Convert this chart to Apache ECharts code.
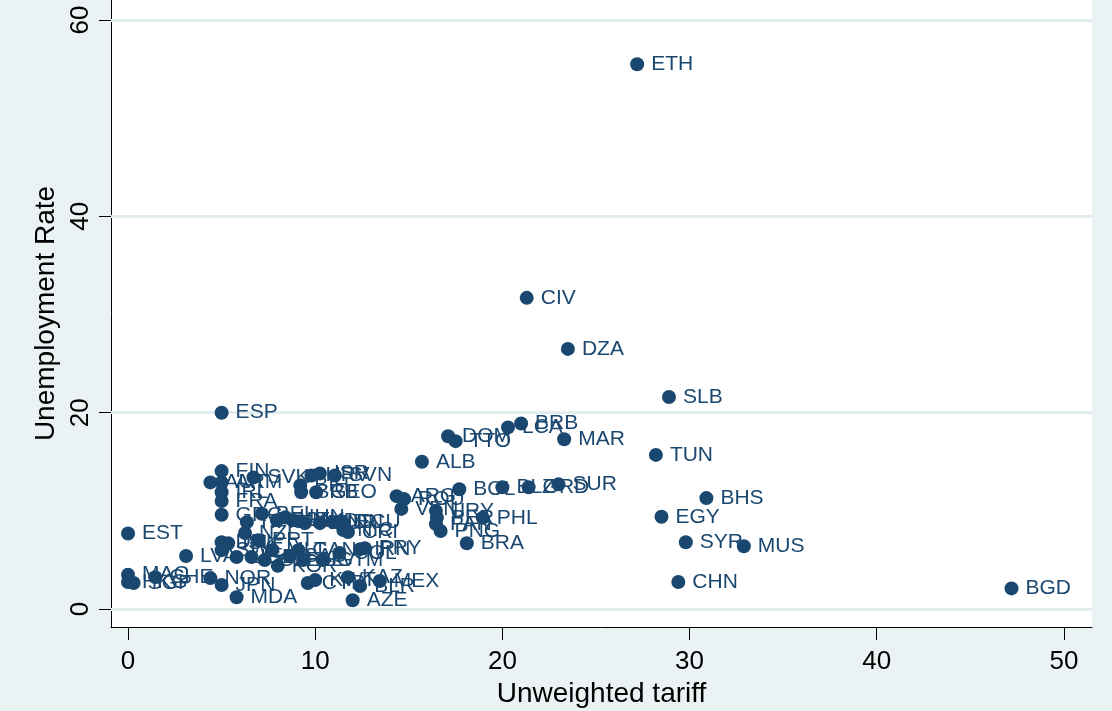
<!DOCTYPE html>
<html>
<head>
<meta charset="utf-8">
<script src="https://cdn.jsdelivr.net/npm/echarts@6/dist/echarts.min.js"></script>
<style>
html,body{margin:0;padding:0;background:#eaf2f3;}
#chart{width:1112px;height:711px;}
</style>
</head>
<body>
<div id="chart"></div>
<script>
const countries = ["ETH","CIV","DZA","SLB","ESP","BRB","LCA","DOM","TTO","MAR","TUN","ALB","SUR","BOL","BLZ","GRD","BHS","EGY","SYR","MUS","CHN","BGD","EST","MAC","HKG","SGP","CHE","LVA","NOR","JPN","MDA","FIN","AUT","ARM","IRL","FRA","GRC","SVK","ITA","BEL","POL","HUN","LTU","NZL","DNK","ISL","SWE","USA","GBR","MLT","KOR","CAN","PRT","CZE","SAU","HRV","ISR","SVN","BIH","SRB","GEO","MKD","KEN","TUR","IDN","ECU","NIC","CRI","IRN","PRY","COL","GTM","SLV","CYP","KWT","KAZ","BLR","MEX","AZE","ARG","ROU","VEN","URY","PER","PAN","PNG","PHL","BRA"];
const tariff = [27.2,21.3,23.5,28.9,5.0,21.0,20.3,17.1,17.5,23.3,28.2,15.7,23.0,17.7,20.0,21.4,30.9,28.5,29.8,32.9,29.4,47.2,0.0,0.0,0.0,0.3,1.45,3.1,4.4,5.0,5.8,5.0,4.4,5.0,5.0,5.0,5.0,6.7,6.35,7.15,7.95,8.4,8.8,6.25,5.0,5.35,5.0,5.8,6.6,7.7,8.0,9.1,6.95,7.3,8.65,9.8,10.25,11.05,9.2,9.25,10.05,9.1,9.45,10.25,10.95,11.45,11.5,11.75,12.4,12.65,11.3,10.4,9.35,9.6,10.0,11.75,12.4,13.45,12.0,14.35,14.75,14.6,16.45,16.5,16.45,16.7,18.95,18.1];
const unemployment = [55.5,31.7,26.5,21.6,20.0,18.9,18.5,17.6,17.1,17.3,15.7,15.0,12.7,12.2,12.4,12.4,11.3,9.4,6.8,6.4,2.75,2.1,7.7,3.5,2.75,2.65,3.25,5.4,3.15,2.45,1.2,14.05,12.9,12.9,11.9,11.0,9.6,13.4,8.85,9.7,9.05,9.35,9.05,7.75,6.8,6.7,6.0,5.3,5.3,6.0,4.4,6.0,7.0,5.0,5.4,13.6,13.8,13.6,12.6,11.9,11.9,8.95,8.75,8.75,8.85,8.85,8.05,7.85,6.1,6.2,5.7,5.0,5.0,2.65,2.95,3.25,2.35,2.85,0.9,11.5,11.2,10.2,10.0,9.3,8.65,7.95,9.3,6.7];
const xTicks = [0,10,20,30,40,50];
const yTicks = [0,20,40,60];

const navy = '#1a476f';
const font = 'Liberation Sans, Arial, sans-serif';
const data = countries.map((c,i)=>({name:c, value:[tariff[i], unemployment[i]]}));

const chart = echarts.init(document.getElementById('chart'), null, {renderer:'canvas'});
chart.setOption({
  backgroundColor:'#eaf2f3',
  animation:false,
  grid:{left:111, right:20, top:0, bottom:84, show:true, backgroundColor:'#ffffff', borderWidth:0, outerBoundsMode:'none', containLabel:false},
  xAxis:{
    type:'value', min:-0.91, max:51.5,
    name:'Unweighted tariff', nameLocation:'middle', nameGap:47,
    nameTextStyle:{fontFamily:font, fontSize:28, color:'#000'},
    axisLine:{show:true, onZero:false, lineStyle:{color:'#000', width:1}},
    axisTick:{show:true, length:13, customValues:xTicks, lineStyle:{color:'#000'}},
    axisLabel:{customValues:xTicks, fontFamily:font, fontSize:26, color:'#000', margin:22},
    splitLine:{show:false}
  },
  yAxis:{
    type:'value', min:-1.83, max:62.04,
    name:'Unemployment Rate', nameLocation:'middle', nameRotate:90, nameGap:50,
    nameTextStyle:{fontFamily:font, fontSize:28, color:'#000'},
    axisLine:{show:true, onZero:false, lineStyle:{color:'#000', width:1}},
    axisTick:{show:true, length:12, customValues:yTicks, lineStyle:{color:'#000'}},
    axisLabel:{customValues:yTicks, rotate:90, fontFamily:font, fontSize:26, color:'#000', margin:17},
    splitLine:{show:false}
  },
  series:[{
    type:'scatter',
    data:[],
    z:1,
    markLine:{
      z:1,
      silent:true, symbol:'none', animation:false,
      label:{show:false},
      lineStyle:{color:'#e3ecef', width:3, type:'solid'},
      data:yTicks.map(v=>({yAxis:v}))
    }
  },{
    type:'scatter',
    data:data,
    symbol:'circle',
    symbolSize:14,
    itemStyle:{color:navy, opacity:1},
    label:{show:true, position:'right', distance:7, formatter:p=>p.name, fontFamily:font, fontSize:21, color:navy},
    z:3
  }]
});
</script>
</body>
</html>
